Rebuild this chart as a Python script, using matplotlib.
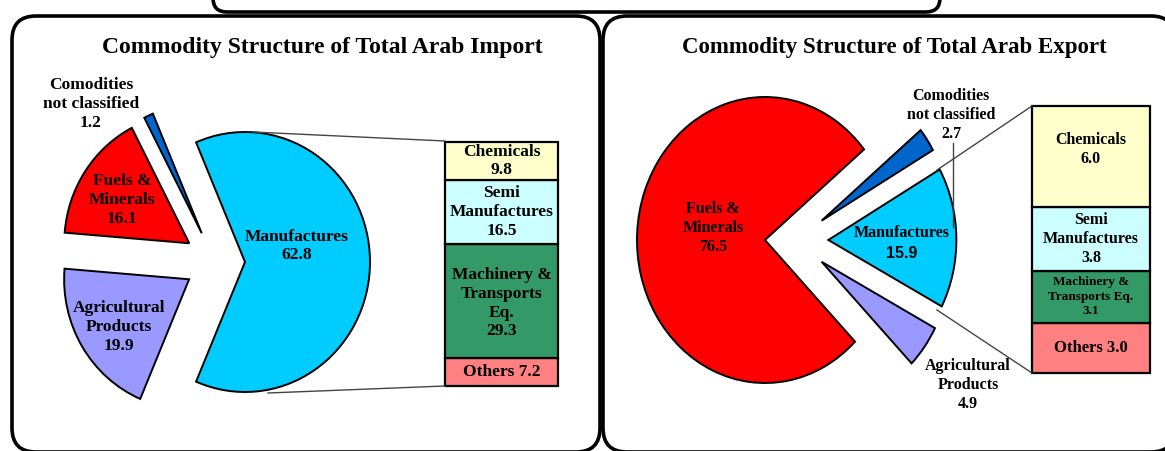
import matplotlib
matplotlib.use('Agg')
import matplotlib.pyplot as plt
from matplotlib.patches import Wedge, FancyBboxPatch
import numpy as np

# ---- data -------------------------------------------------------------
# pie slices, listed counter-clockwise starting with the first slice
imp_names = ['Manufactures', 'Comodities\nnot classified', 'Fuels &\nMinerals',
             'Agricultural\nProducts']
imp_values = [62.8, 1.2, 16.1, 19.9]

exp_names = ['Fuels &\nMinerals', 'Agricultural\nProducts', 'Manufactures',
             'Comodities\nnot classified']
exp_values = [76.5, 4.9, 15.9, 2.7]

# break-down of manufactures (bottom to top of the stacked bar)
imp_bar_names = ['Others', 'Machinery &\nTransports\nEq.', 'Semi\nManufactures', 'Chemicals']
imp_bar_values = [7.2, 29.3, 16.5, 9.8]
exp_bar_names = ['Others', 'Machinery &\nTransports Eq.', 'Semi\nManufactures', 'Chemicals']
exp_bar_values = [3.0, 3.1, 3.8, 6.0]

# ---- styling ----------------------------------------------------------
W, H = 1165, 451
SERIF = 'Liberation Serif'
pie_colors = {'Manufactures': '#00CCFF', 'Comodities\nnot classified': '#0066CC',
              'Fuels &\nMinerals': '#FF0000', 'Agricultural\nProducts': '#9999FF'}
bar_colors = ['#FF8080', '#339966', '#CCFFFF', '#FFFFCC']

fig = plt.figure(figsize=(W / 100, H / 100), dpi=100)

bg = fig.add_axes([0, 0, 1, 1])
bg.set_xlim(0, W)
bg.set_ylim(H, 0)
bg.axis('off')

# frames
for x0, y0, x1, y1, r in [(213, -40, 940, 12, 14), (12, 16, 600, 452, 24),
                          (603, 16, 1175, 452, 24)]:
    bg.add_patch(FancyBboxPatch((x0, y0), x1 - x0, y1 - y0,
                                boxstyle=f'round,pad=0,rounding_size={r}',
                                fc='white', ec='black', lw=2.6))


def pie_axes(cx, cy, rx, ry, k=1.7):
    ax = fig.add_axes([(cx - k * rx) / W, 1 - (cy + k * ry) / H,
                       2 * k * rx / W, 2 * k * ry / H])
    ax.set_xlim(-k, k)
    ax.set_ylim(-k, k)
    ax.axis('off')
    return ax


def draw_pie(ax, names, values, start, offsets):
    theta = start
    for name, v, off in zip(names, values, offsets):
        t2 = theta + v / sum(values) * 360
        ax.add_patch(Wedge(off, 1.0, theta, t2, fc=pie_colors[name],
                           ec='black', lw=1.4))
        theta = t2


def draw_bar(x0, y0, x1, y1, names, values, sizes, spacings, shifts):
    ax = fig.add_axes([x0 / W, 1 - y1 / H, (x1 - x0) / W, (y1 - y0) / H])
    ax.set_xlim(-0.5, 0.5)
    ax.set_ylim(0, sum(values))
    ax.axis('off')
    bottoms = np.cumsum([0] + values[:-1])
    ax.bar([0] * len(values), values, width=1, bottom=bottoms, color=bar_colors,
           edgecolor='black', linewidth=1.6, clip_on=False)
    for name, v, b, s, ls, dy in zip(names, values, bottoms, sizes, spacings, shifts):
        sep = ' ' if name == 'Others' else '\n'
        ax.text(0, b + v / 2 + dy, f'{name}{sep}{v:.1f}', ha='center', va='center',
                fontsize=s, fontweight='bold', family=SERIF, linespacing=ls)


# ---- import panel -----------------------------------------------------
ax_imp = pie_axes(245, 262, 125, 130)
draw_pie(ax_imp, imp_names, imp_values, -imp_values[0] * 1.8,
         [(0, 0), (-0.346, 0.221), (-0.446, 0.144), (-0.447, -0.133)])
draw_bar(445, 142, 558, 386, imp_bar_names, imp_bar_values,
         [12.5, 12.5, 12.5, 12.5], [1.2, 1.22, 1.22, 1.2], [0, -0.6, 0, 0])

# ---- export panel -----------------------------------------------------
ax_exp = pie_axes(765, 240, 128, 143)
draw_pie(ax_exp, exp_names, exp_values, 177 - exp_values[0] * 1.8,
         [(0, 0), (0.442, -0.152), (0.495, 0), (0.442, 0.135)])
draw_bar(1032, 106, 1150, 373, exp_bar_names, exp_bar_values,
         [12, 9.5, 11.5, 11.5], [1.2, 1.3, 1.25, 1.25], [0, 0, 0, 0.4])

# ---- overlay: titles, labels, leader lines ----------------------------
ov = fig.add_axes([0, 0, 1, 1])
ov.set_xlim(0, W)
ov.set_ylim(H, 0)
ov.axis('off')

ov.text(322, 48, 'Commodity Structure of Total Arab Import', ha='center', va='center',
        fontsize=17, fontweight='bold', family=SERIF)
ov.text(894, 48, 'Commodity Structure of Total Arab Export', ha='center', va='center',
        fontsize=16.5, fontweight='bold', family=SERIF)

kw = dict(ha='center', va='center', fontweight='bold', family=SERIF, linespacing=1.24)
imp_pos = {'Manufactures': (297, 246), 'Comodities\nnot classified': (91, 104),
           'Fuels &\nMinerals': (122, 200), 'Agricultural\nProducts': (119, 327)}
for name, v in zip(imp_names, imp_values):
    ov.text(*imp_pos[name], f'{name}\n{v:.1f}', fontsize=12.5, **kw)

exp_pos = {'Fuels &\nMinerals': (713, 228), 'Comodities\nnot classified': (951, 115),
           'Agricultural\nProducts': (968, 385)}
for name, v in zip(exp_names, exp_values):
    if name == 'Manufactures':
        ov.text(902, 233, name, fontsize=11.5, **kw)
        ov.text(902, 253, f'{v:.1f}', fontsize=11.5, ha='center', va='center',
                fontweight='bold', family='Liberation Sans')
    else:
        ov.text(*exp_pos[name], f'{name}\n{v:.1f}', fontsize=11.5, **kw)

# connectors pie -> bar
ov.plot([253, 445], [132, 141], color='#444444', lw=1)
ov.plot([268, 445], [393, 386], color='#444444', lw=1)
ov.plot([937, 1032], [170, 106], color='#444444', lw=1)
ov.plot([937, 1032], [310, 373], color='#444444', lw=1)
ov.plot([953, 953], [143, 227], color='#444444', lw=1)

fig.savefig('out.png', dpi=100)
